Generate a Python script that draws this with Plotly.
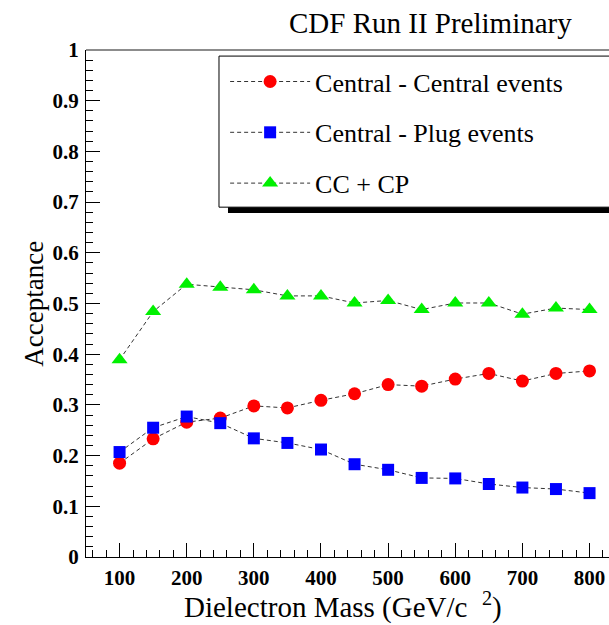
import plotly.graph_objects as go

mass = [100, 150, 200, 250, 300, 350, 400, 450, 500, 550, 600, 650, 700, 750, 800]
cc_acc = [0.185, 0.233, 0.266, 0.274, 0.298, 0.294, 0.309, 0.322, 0.340, 0.337, 0.351, 0.362, 0.347, 0.362, 0.367]
cp_acc = [0.207, 0.255, 0.277, 0.264, 0.234, 0.225, 0.212, 0.183, 0.172, 0.156, 0.155, 0.144, 0.137, 0.134, 0.126]
tot_acc = [0.389, 0.484, 0.538, 0.532, 0.527, 0.515, 0.515, 0.501, 0.506, 0.488, 0.501, 0.501, 0.479, 0.491, 0.488]

series_names = ["Central - Central events", "Central - Plug events", "CC + CP"]

SERIF = "Liberation Serif, Times New Roman, serif"
line_style = dict(color="#333333", width=1, dash="4px,3px")

fig = go.Figure()
fig.add_trace(go.Scatter(x=mass, y=cc_acc, mode="lines+markers", name=series_names[0],
                         line=line_style, legendgroup="a",
                         marker=dict(symbol="circle", size=13, color="#ff0000", line=dict(width=0))))
fig.add_trace(go.Scatter(x=mass, y=cp_acc, mode="lines+markers", name=series_names[1],
                         line=line_style, legendgroup="b",
                         marker=dict(symbol="square", size=12, color="#0000ff", line=dict(width=0))))
fig.add_trace(go.Scatter(x=mass, y=tot_acc, mode="lines+markers", name=series_names[2],
                         line=line_style, legendgroup="c",
                         marker=dict(symbol="triangle-up", size=14, color="#00f000", line=dict(width=0))))

fig.update_layout(
    width=609, height=625,
    margin=dict(l=86, r=0, t=50, b=68),
    paper_bgcolor="white", plot_bgcolor="white",
    font=dict(family=SERIF, color="black"),
    showlegend=True,
    legend=dict(x=0.266, y=0.984, xanchor="left", yanchor="top",
                bgcolor="rgba(0,0,0,0)", borderwidth=0,
                font=dict(family=SERIF, size=26, color="black"),
                tracegroupgap=14, itemwidth=80),
    xaxis=dict(range=[50, 829], showgrid=False, zeroline=False,
               showline=True, linecolor="black", linewidth=1,
               ticks="inside", ticklen=14, tickwidth=1, tickcolor="black",
               tick0=100, dtick=100,
               tickfont=dict(family=SERIF, size=21, color="black", weight="bold"),
               ticklabelstandoff=2,
               minor=dict(ticks="inside", ticklen=7, dtick=20, tick0=0, tickcolor="black", showgrid=False)),
    yaxis=dict(range=[0, 1], showgrid=False, zeroline=False,
               showline=True, linecolor="black", linewidth=1,
               ticks="inside", ticklen=14, tickwidth=1, tickcolor="black",
               tick0=0, dtick=0.1, tickformat="~g",
               tickfont=dict(family=SERIF, size=21, color="black", weight="bold"),
               ticklabelstandoff=2,
               minor=dict(ticks="inside", ticklen=7, dtick=0.02, tickcolor="black", showgrid=False)),
    shapes=[
        # top frame line
        dict(type="line", xref="paper", yref="paper", x0=0, x1=1.05, y0=1, y1=1,
             line=dict(color="#666666", width=1.5)),
        # legend shadow
        dict(type="rect", xref="paper", yref="paper", x0=0.2715, x1=1.1, y0=0.6785, y1=0.70,
             fillcolor="black", line=dict(width=0), layer="above"),
        # legend box
        dict(type="rect", xref="paper", yref="paper", x0=0.2543, x1=1.1, y0=0.690, y1=0.988,
             fillcolor="white", line=dict(color="black", width=1), layer="above"),
    ],
    annotations=[
        dict(text="CDF Run II Preliminary", xref="paper", yref="paper", x=0.658, y=1.053,
             xanchor="center", yanchor="middle", showarrow=False,
             font=dict(family=SERIF, size=29, color="black")),
        dict(text="Dielectron Mass (GeV/c\u00a0\u00a0<sup>2</sup>)", xref="paper", yref="paper",
             x=0.492, y=-0.095, xanchor="center", yanchor="middle", showarrow=False,
             font=dict(family=SERIF, size=29, color="black")),
        dict(text="Acceptance", xref="paper", yref="paper", x=-0.101, y=0.5,
             xanchor="center", yanchor="middle", showarrow=False, textangle=-90,
             font=dict(family=SERIF, size=27, color="black")),
    ],
)

fig.write_html("out.html", config={"displayModeBar": False},
               post_script="document.body.style.margin='0';document.body.style.overflow='hidden';")
